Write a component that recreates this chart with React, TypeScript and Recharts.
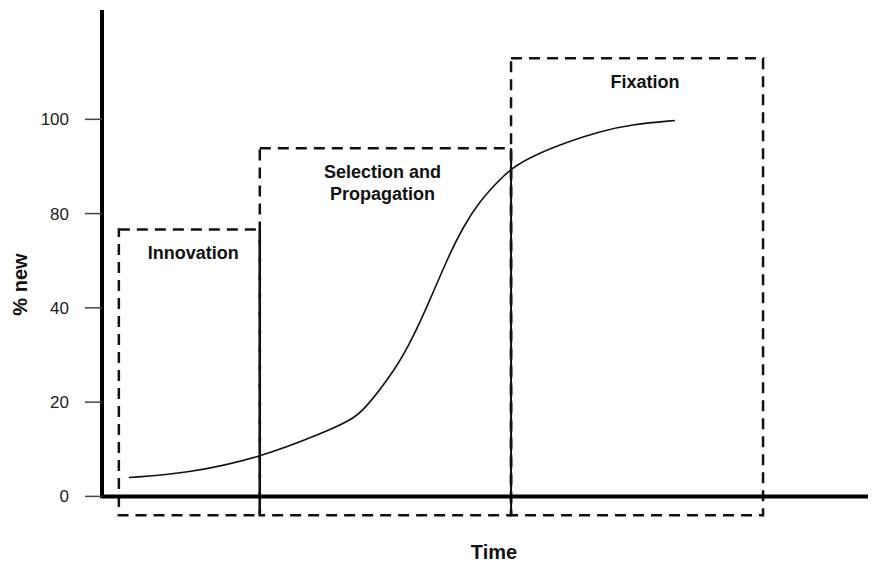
import { LineChart, Line, XAxis, YAxis, ReferenceArea, ReferenceLine } from 'recharts';

// curve (time in arbitrary units, share in axis units)
const TIME = [3.5, 11.1, 20.4, 29.1, 32.4, 34.1, 38.5, 40.6, 42.8, 45.0, 47.1, 49.4, 51.6, 53.4, 56.3, 60.7, 65.0, 69.3, 74.8];
const SHARE = [5.0, 6.1, 10.1, 17.0, 20.2, 22.5, 34.2, 42.2, 52.0, 62.6, 71.4, 78.5, 83.3, 87.0, 90.4, 94.0, 96.8, 98.7, 99.7];

const Y_TICKS = [0, 25, 50, 75, 100];
const Y_TICK_LABELS = ['0', '20', '40', '80', '100'];

const STAGES = [['Innovation'], ['Selection and', 'Propagation'], ['Fixation']];
const STAGE_START = [2.2, 20.6, 53.4];
const STAGE_END = [20.6, 53.4, 86.3];
const STAGE_TOP = [70.8, 92.3, 116.2];
const STAGE_BOTTOM = -5;
const LABEL_SHIFT = [4, -3, 8];

const data = TIME.map((t, i) => ({ t, v: SHARE[i] }));

const font = 'Liberation Sans, Arial, Helvetica, sans-serif';

function StageLabel({ viewBox, lines, shift }: any) {
  const cx = viewBox.x + viewBox.width / 2 + shift;
  return (
    <text textAnchor="middle" fontFamily={font} fontWeight="bold" fontSize={18} fill="#111">
      {lines.map((l: string, i: number) => (
        <tspan key={i} x={cx} y={viewBox.y + 30 + i * 22}>
          {l}
        </tspan>
      ))}
    </text>
  );
}

export default function App() {
  return (
    <div style={{ fontFamily: font }}>
      <style>{'body{margin:0}'}</style>
      <LineChart width={890} height={571} data={data} margin={{ top: 10, right: 22, left: 0, bottom: 0 }}>
        <XAxis
          type="number"
          dataKey="t"
          domain={[0, 100]}
          height={52}
          tick={false}
          tickLine={false}
          axisLine={false}
          label={{
            content: ({ viewBox }: any) => (
              <text
                x={viewBox.x + viewBox.width / 2 + 9}
                y={viewBox.y + 40}
                textAnchor="middle"
                fontFamily={font}
                fontWeight="bold"
                fontSize={20}
                fill="#111"
              >
                Time
              </text>
            ),
          }}
        />
        <YAxis
          type="number"
          domain={[-6, 129]}
          ticks={Y_TICKS}
          tickFormatter={(v: number) => Y_TICK_LABELS[Y_TICKS.indexOf(v)]}
          width={102}
          axisLine={false}
          tickLine={{ stroke: '#444', strokeWidth: 1.5 }}
          tickSize={17}
          tickMargin={16}
          tick={{ fontSize: 17, fill: '#222', fontFamily: font }}
          label={{
            content: ({ viewBox }: any) => {
              const x = 19.5;
              const y = viewBox.y + viewBox.height / 2 + 20;
              return (
                <text
                  x={x}
                  y={y}
                  transform={`rotate(-90 ${x} ${y})`}
                  textAnchor="middle"
                  dominantBaseline="central"
                  fontFamily={font}
                  fontWeight="bold"
                  fontSize={20}
                  fill="#111"
                >
                  % new
                </text>
              );
            },
          }}
        />
        {STAGES.map((lines, i) => (
          <ReferenceArea
            key={i}
            x1={STAGE_START[i]}
            x2={STAGE_END[i]}
            y1={STAGE_BOTTOM}
            y2={STAGE_TOP[i]}
            fill="none"
            fillOpacity={0}
            stroke="#111"
            strokeWidth={2.5}
            strokeDasharray="11 7"
            ifOverflow="visible"
            label={{ content: (p: any) => <StageLabel viewBox={p.viewBox} lines={lines} shift={LABEL_SHIFT[i]} /> }}
          />
        ))}
        {STAGE_END.slice(0, 2).map((x, i) => (
          <ReferenceLine
            key={`edge-${i}`}
            segment={[
              { x, y: STAGE_TOP[i] },
              { x, y: STAGE_BOTTOM },
            ]}
            stroke="#111"
            strokeWidth={2}
          />
        ))}
        <ReferenceLine y={0} stroke="#000" strokeWidth={4} />
        <ReferenceLine
          segment={[
            { x: 0, y: -0.5 },
            { x: 0, y: 129 },
          ]}
          stroke="#000"
          strokeWidth={4}
        />
        <Line
          type="basis"
          dataKey="v"
          stroke="#111"
          strokeWidth={1.6}
          dot={false}
          activeDot={false}
          isAnimationActive={false}
        />
      </LineChart>
    </div>
  );
}
